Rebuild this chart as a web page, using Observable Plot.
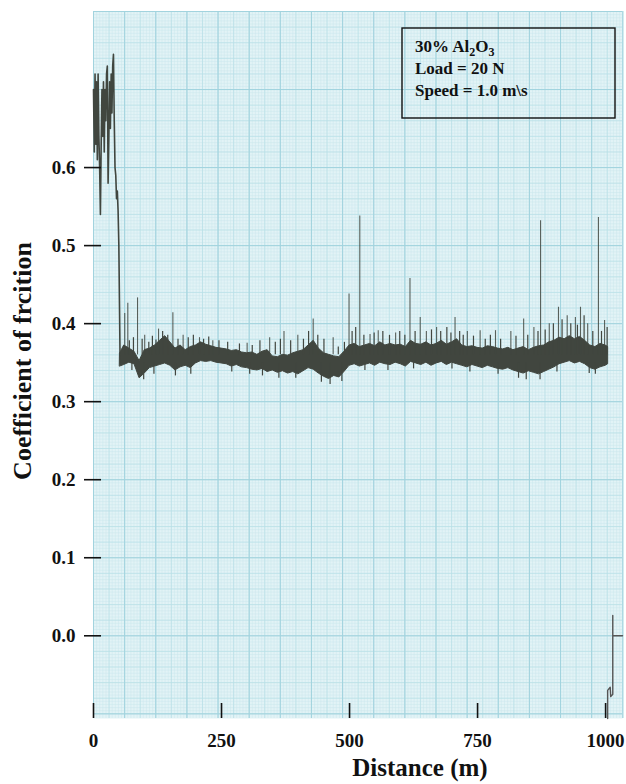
<!DOCTYPE html>
<html>
<head>
<meta charset="utf-8">
<script src="https://cdn.jsdelivr.net/npm/d3@7"></script>
<script src="https://cdn.jsdelivr.net/npm/@observablehq/plot@0.6"></script>
<style>
  html, body { margin: 0; padding: 0; background: #fff; }
  #chart { width: 626px; height: 784px; }
</style>
</head>
<body>
<div id="chart"></div>
<script>
// ---- tick labels ----
const xTicks = [0, 250, 500, 750, 1000];
const yTicks = [0.0, 0.1, 0.2, 0.3, 0.4, 0.5, 0.6];
const xTitle = "Distance (m)";
const yTitle = "Coefficient of frcition";

// ---- run-in period (0 - 52 m) ----
const runInDist = [0, 1.5, 3, 4.5, 6, 7.5, 9, 10.5, 12, 13.5, 15, 16.5, 18, 19.5, 21, 22.5, 24, 25.5, 27, 28.5, 30, 31.5, 33, 34.5, 36, 37.5, 39, 40.5, 42, 43.5, 45, 46.5, 48, 49.5, 51, 52];
const runInCoef = [0.70, 0.62, 0.72, 0.63, 0.71, 0.61, 0.72, 0.64, 0.60, 0.54, 0.63, 0.70, 0.64, 0.71, 0.62, 0.70, 0.66, 0.72, 0.73, 0.58, 0.64, 0.71, 0.65, 0.72, 0.67, 0.73, 0.745, 0.66, 0.60, 0.59, 0.56, 0.57, 0.545, 0.50, 0.41, 0.348];

// ---- steady-state noisy band (low / high envelope) ----
const bandDist = [52, 60, 70, 80, 90, 100, 110, 120, 130, 140, 150, 160, 170, 180, 190, 200, 210, 220, 230, 240, 250, 260, 270, 280, 290, 300, 310, 320, 330, 340, 350, 360, 370, 380, 390, 400, 410, 420, 430, 440, 450, 460, 470, 480, 490, 500, 510, 520, 530, 540, 550, 560, 570, 580, 590, 600, 610, 620, 630, 640, 650, 660, 670, 680, 690, 700, 710, 720, 730, 740, 750, 760, 770, 780, 790, 800, 810, 820, 830, 840, 850, 860, 870, 880, 890, 900, 910, 920, 930, 940, 950, 960, 970, 980, 990, 1000, 1005];
const bandLow = [0.345, 0.347, 0.350, 0.348, 0.330, 0.336, 0.343, 0.345, 0.347, 0.349, 0.346, 0.340, 0.344, 0.346, 0.343, 0.349, 0.352, 0.351, 0.352, 0.350, 0.349, 0.348, 0.345, 0.347, 0.344, 0.343, 0.341, 0.340, 0.342, 0.338, 0.340, 0.337, 0.339, 0.336, 0.338, 0.335, 0.339, 0.343, 0.341, 0.336, 0.332, 0.329, 0.333, 0.331, 0.338, 0.346, 0.348, 0.345, 0.347, 0.349, 0.346, 0.350, 0.348, 0.347, 0.350, 0.348, 0.345, 0.351, 0.349, 0.347, 0.350, 0.346, 0.349, 0.351, 0.347, 0.350, 0.348, 0.346, 0.344, 0.347, 0.345, 0.343, 0.346, 0.344, 0.342, 0.341, 0.343, 0.340, 0.338, 0.336, 0.339, 0.337, 0.335, 0.338, 0.341, 0.344, 0.348, 0.350, 0.352, 0.349, 0.351, 0.348, 0.343, 0.341, 0.344, 0.346, 0.348];
const bandHigh = [0.362, 0.372, 0.368, 0.364, 0.352, 0.366, 0.368, 0.372, 0.378, 0.384, 0.376, 0.368, 0.372, 0.366, 0.370, 0.372, 0.376, 0.373, 0.371, 0.369, 0.368, 0.367, 0.365, 0.366, 0.363, 0.362, 0.363, 0.360, 0.364, 0.366, 0.358, 0.357, 0.360, 0.359, 0.362, 0.364, 0.366, 0.372, 0.378, 0.368, 0.362, 0.360, 0.358, 0.357, 0.364, 0.372, 0.374, 0.370, 0.372, 0.374, 0.371, 0.376, 0.372, 0.374, 0.372, 0.373, 0.370, 0.378, 0.374, 0.373, 0.376, 0.372, 0.374, 0.378, 0.373, 0.376, 0.380, 0.372, 0.370, 0.371, 0.369, 0.368, 0.371, 0.370, 0.368, 0.367, 0.369, 0.366, 0.368, 0.370, 0.366, 0.369, 0.371, 0.372, 0.376, 0.378, 0.382, 0.380, 0.384, 0.380, 0.383, 0.378, 0.372, 0.370, 0.374, 0.372, 0.370];

// ---- tall friction spikes (distance, peak value) ----
const spikeDist = [61, 67, 86, 100, 127, 155, 175, 207, 233, 300, 344, 372, 399, 429, 468, 499, 520, 540, 556, 590, 618, 638, 650, 670, 706, 730, 755, 785, 815, 840, 860, 873, 890, 908, 925, 941, 951, 965, 986, 998];
const spikeTop = [0.413, 0.426, 0.433, 0.385, 0.393, 0.414, 0.385, 0.382, 0.378, 0.375, 0.382, 0.390, 0.385, 0.406, 0.382, 0.438, 0.538, 0.386, 0.391, 0.388, 0.458, 0.408, 0.390, 0.395, 0.408, 0.390, 0.391, 0.391, 0.390, 0.406, 0.395, 0.532, 0.400, 0.421, 0.410, 0.408, 0.421, 0.400, 0.536, 0.404];

// ---- small upward spikes ----
const minorDist = [70, 78, 95, 108, 115, 122, 135, 145, 165, 185, 195, 215, 225, 245, 262, 285, 310, 325, 355, 365, 385, 410, 420, 438, 450, 478, 490, 505, 512, 528, 548, 565, 578, 598, 608, 628, 660, 678, 690, 698, 715, 722, 742, 765, 775, 795, 825, 848, 868, 882, 898, 915, 932, 945, 958, 975, 992, 1003];
const minorTop = [0.378, 0.382, 0.380, 0.376, 0.384, 0.379, 0.390, 0.385, 0.380, 0.382, 0.385, 0.380, 0.383, 0.378, 0.376, 0.374, 0.372, 0.378, 0.376, 0.380, 0.378, 0.380, 0.390, 0.385, 0.380, 0.370, 0.376, 0.390, 0.395, 0.385, 0.388, 0.390, 0.385, 0.390, 0.385, 0.390, 0.392, 0.390, 0.395, 0.388, 0.390, 0.385, 0.384, 0.380, 0.385, 0.380, 0.384, 0.385, 0.390, 0.392, 0.400, 0.405, 0.400, 0.398, 0.410, 0.390, 0.390, 0.395];

// ---- small downward dips ----
const dipDist = [75, 98, 118, 160, 190, 270, 305, 330, 362, 395, 445, 462, 485, 530, 575, 625, 700, 735, 790, 830, 845, 872, 905, 968, 980];
const dipBottom = [0.340, 0.328, 0.335, 0.333, 0.335, 0.338, 0.335, 0.333, 0.330, 0.330, 0.325, 0.322, 0.326, 0.340, 0.340, 0.342, 0.342, 0.338, 0.335, 0.330, 0.328, 0.328, 0.338, 0.336, 0.335];

// ---- end of test (pen return) ----
const tailDist = [1004, 1004, 1009, 1010, 1014, 1014, 1014, 1033];
const tailCoef = [-0.106, -0.070, -0.066, -0.078, -0.075, 0.026, 0.000, 0.000];

// ---- legend text ----
const legendLines = [
  [["30% Al", false], ["2", true], ["O", false], ["3", true]],
  [["Load = 20 N", false]],
  [["Speed = 1.0 m\\s", false]]
];

// ---- build tables ----
const runIn = runInDist.map((d, i) => ({d, c: runInCoef[i]}));
const band = bandDist.map((d, i) => ({d, lo: bandLow[i], hi: bandHigh[i]}));
const spikes = spikeDist.map((d, i) => ({d, top: spikeTop[i]}));
const minor = minorDist.map((d, i) => ({d, top: minorTop[i]}));
const dips = dipDist.map((d, i) => ({d, bottom: dipBottom[i]}));
const tail = tailDist.map((d, i) => ({d, c: tailCoef[i]}));

// graph-paper grid lines
const xStepMajor = 60.8;
const xFine = d3.range(0, 1034, xStepMajor / 10);
const xMed = d3.range(0, 1034, xStepMajor / 2);
const xMaj = d3.range(0, 1034, xStepMajor);
const yFine = d3.range(-0.1, 0.8, 0.004);
const yMed = d3.range(-0.1, 0.8, 0.02);
const yMaj = d3.range(-0.1, 0.81, 0.1);

const serif = "'Liberation Serif', 'Times New Roman', Times, serif";
const ink = "#41463f";

const plot = Plot.plot({
  width: 626,
  height: 784,
  marginLeft: 93,
  marginRight: 4,
  marginTop: 11,
  marginBottom: 66,
  x: {domain: [0, 1033], label: null},
  y: {domain: [-0.106, 0.8], label: null},
  style: {fontFamily: serif, fontWeight: "bold", background: "#fff", color: "#111"},
  marks: [
    Plot.frame({fill: "#e2f3f6", stroke: null}),
    Plot.ruleX(xFine, {stroke: "#cbe7ed", strokeWidth: 0.5}),
    Plot.ruleY(yFine, {stroke: "#cbe7ed", strokeWidth: 0.5}),
    Plot.ruleX(xMed, {stroke: "#b8dfe7", strokeWidth: 0.7}),
    Plot.ruleY(yMed, {stroke: "#b8dfe7", strokeWidth: 0.7}),
    Plot.ruleX(xMaj, {stroke: "#a2d3de", strokeWidth: 1}),
    Plot.ruleY(yMaj, {stroke: "#a2d3de", strokeWidth: 1}),
    Plot.areaY(band, {x: "d", y1: "lo", y2: "hi", fill: ink, stroke: ink, strokeWidth: 1}),
    Plot.ruleX(minor, {x: "d", y1: 0.36, y2: "top", stroke: ink, strokeWidth: 1.2}),
    Plot.ruleX(dips, {x: "d", y1: 0.35, y2: "bottom", stroke: ink, strokeWidth: 1.2}),
    Plot.ruleX(spikes, {x: "d", y1: 0.36, y2: "top", stroke: ink, strokeWidth: 1.1, strokeOpacity: 0.85}),
    Plot.line(runIn, {x: "d", y: "c", stroke: ink, strokeWidth: 1.6}),
    Plot.line(tail, {x: "d", y: "c", stroke: "#555", strokeWidth: 1.4}),
    Plot.axisY({ticks: yTicks, tickFormat: d3.format(".1f"), tickSize: 17, dx: 8, tickPadding: 9, fontSize: 19, strokeWidth: 1.6, label: null}),
    Plot.axisX({ticks: xTicks, tickFormat: d3.format("d"), tickSize: -15, tickPadding: 30, fontSize: 19, strokeWidth: 1.6, label: null}),
    Plot.text([xTitle], {frameAnchor: "bottom", dx: 62, dy: 40, lineAnchor: "top", fontSize: 25, fill: "#111"}),
    Plot.text([yTitle], {frameAnchor: "left", textAnchor: "middle", lineAnchor: "middle", rotate: -90, dx: -71, dy: -4, fontSize: 26, fill: "#111"})
  ]
});

document.getElementById("chart").appendChild(plot);

// legend box
const svg = d3.select(plot);
const g = svg.append("g")
  .attr("font-family", serif).attr("font-weight", "bold").attr("font-size", 17)
  .attr("fill", "#111").attr("text-anchor", "start");
g.append("rect").attr("x", 402).attr("y", 28).attr("width", 213).attr("height", 90)
  .attr("fill", "none").attr("stroke", "#111").attr("stroke-width", 1.4);
legendLines.forEach((parts, i) => {
  const t = g.append("text").attr("x", 415).attr("y", 52 + i * 22).attr("text-anchor", "start");
  parts.forEach(([s, sub], j) => {
    const ts = t.append("tspan").text(s);
    if (sub) ts.attr("font-size", 12).attr("dy", 4);
    else if (j > 0) ts.attr("dy", -4);
  });
});
</script>
</body>
</html>
